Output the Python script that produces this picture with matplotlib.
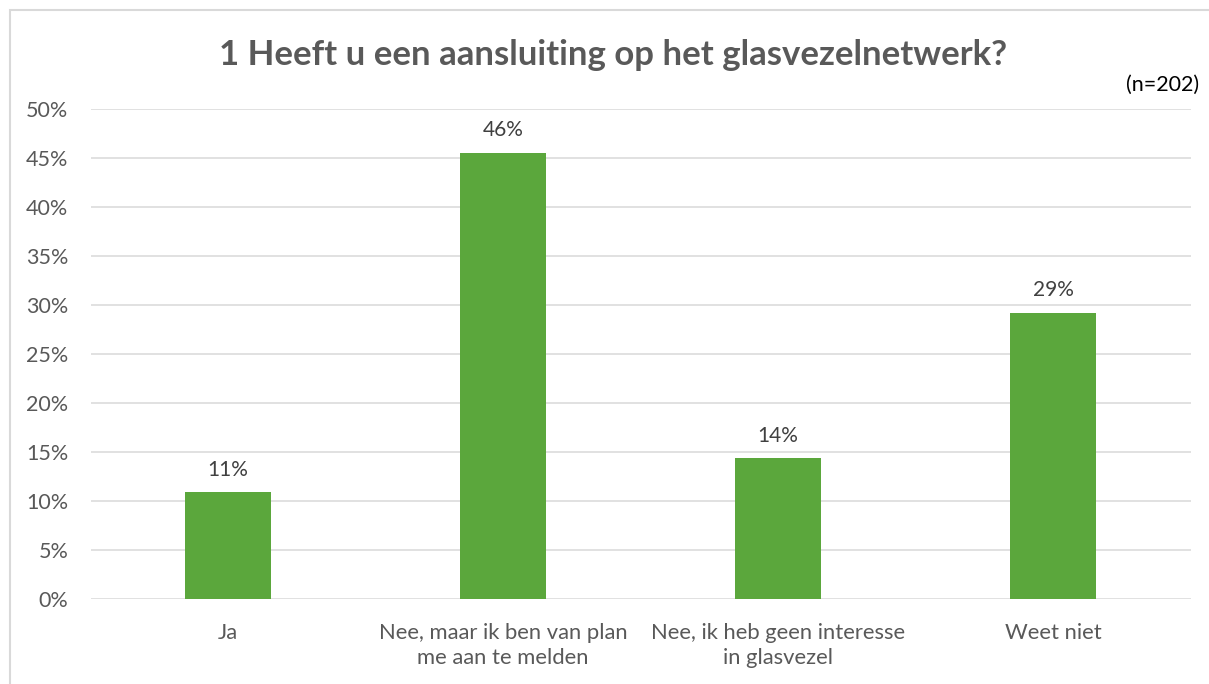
import matplotlib.pyplot as plt
from matplotlib.patches import Rectangle
from matplotlib.ticker import FuncFormatter, MultipleLocator

categories = ["Ja", "Nee, maar ik ben van plan\nme aan te melden",
              "Nee, ik heb geen interesse\nin glasvezel", "Weet niet"]
counts = [22, 92, 29, 59]
n_total = 202
shares = [c / n_total * 100 for c in counts]

title = "1 Heeft u een aansluiting op het glasvezelnetwerk?"

plt.rcParams['font.family'] = ['Lato', 'DejaVu Sans']

fig = plt.figure(figsize=(12.09, 6.84), dpi=100)
ax = fig.add_axes([90.5 / 1209, 85 / 684, 1100 / 1209, 490 / 684])

# chart frame (only top and left visible in the crop)
fig.patches.append(Rectangle((10 / 1209, -0.1), 1.2, (674 / 684) + 0.1,
                             transform=fig.transFigure, fill=False,
                             edgecolor='#d9d9d9', linewidth=1.5))

x = range(len(categories))
bars = ax.bar(x, shares, width=0.313, color='#5ba73c', zorder=3)

for bar, val in zip(bars, shares):
    ax.annotate(f"{val:.0f}%", (bar.get_x() + bar.get_width() / 2, bar.get_height()),
                xytext=(0, 9), textcoords='offset points', ha='center', va='bottom',
                fontsize=15, color='#404040')

ax.set_xlim(-0.5, len(categories) - 0.5)
ax.set_ylim(0, 50)
ax.yaxis.set_major_locator(MultipleLocator(5))
ax.yaxis.set_major_formatter(FuncFormatter(lambda v, p: f"{v:.0f}%"))
ax.set_xticks(list(x))
ax.set_xticklabels(categories, fontsize=15.8, color='#595959', linespacing=1.35)
ax.tick_params(axis='y', labelsize=15.5, labelcolor='#595959', length=0, pad=16)
ax.tick_params(axis='x', length=0, pad=17)
ax.grid(axis='y', color='#d9d9d9', linewidth=1.1, zorder=0)
for s in ax.spines.values():
    s.set_visible(False)

fig.text(613 / 1209, 1 - 55 / 684, title, ha='center', va='center',
         fontsize=25, fontweight='bold', color='#595959')
fig.text(1199 / 1209, 1 - 85 / 684, f"(n={n_total})", ha='right', va='center',
         fontsize=15.5, color='#000000')

fig.savefig('out.png', dpi=100)
